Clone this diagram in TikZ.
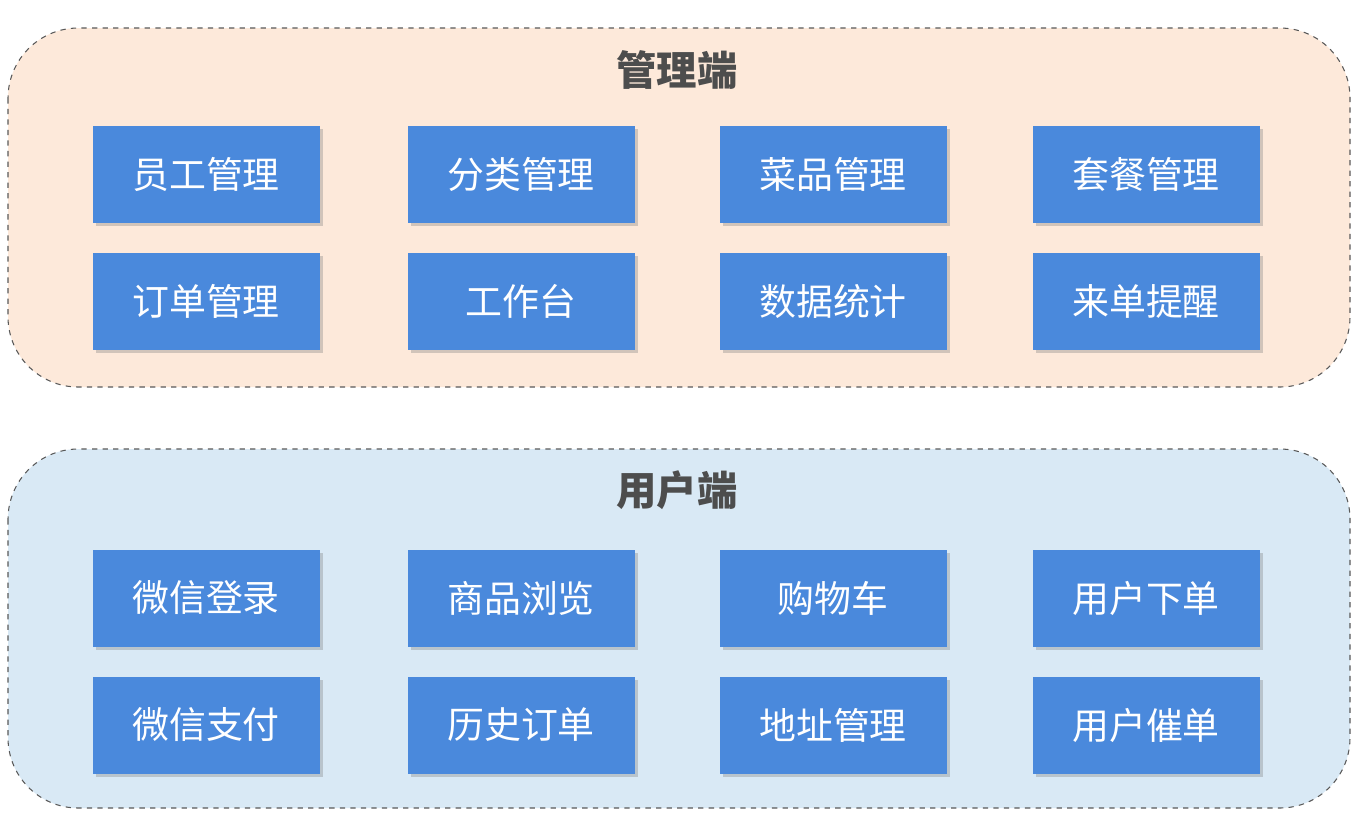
\documentclass[tikz,border=0pt]{standalone}
\usepackage{fontspec}
\newfontfamily\cjk{Noto Sans CJK SC}
\usetikzlibrary{shadows}
\definecolor{boxblue}{HTML}{4A89DC}
\definecolor{topfill}{HTML}{FDE9DA}
\definecolor{botfill}{HTML}{D9E9F5}
\definecolor{titlegray}{HTML}{4D4D4D}
\tikzset{
  panel/.style={draw=gray!70!black, dashed, rounded corners=40pt, line width=0.6pt},
  item/.style={fill=boxblue, text=white, minimum width=227*0.02cm, minimum height=97*0.02cm,
    font=\cjk\fontsize{21}{21}\selectfont, drop shadow={opacity=0.35, shadow xshift=2pt, shadow yshift=-2pt}},
  title/.style={text=titlegray, font=\cjk\bfseries\fontsize{23}{23}\selectfont}
}
\begin{document}
\begin{tikzpicture}[x=0.02cm, y=-0.02cm]
  \useasboundingbox (0,0) rectangle (1366,826);

  % Panels
  \draw [panel, fill=topfill] (8,28) rectangle (1350,387);
  \draw [panel, fill=botfill] (8,449) rectangle (1350,808);

  % Titles
  \node [title] (admin) at (677,70) {管理端};
  \node [title] (user) at (677,490) {用户端};

  % Admin modules
  \foreach \t [count=\i from 0] in {员工管理,分类管理,菜品管理,套餐管理,订单管理,工作台,数据统计,来单提醒} {
    \pgfmathsetmacro\cx{{206,521,833,1146}[mod(\i,4)]}
    \pgfmathsetmacro\cy{{174,301}[int(\i/4)]}
    \node [item] (a\i) at (\cx,\cy) {\t};
  }

  % User modules
  \foreach \t [count=\i from 0] in {微信登录,商品浏览,购物车,用户下单,微信支付,历史订单,地址管理,用户催单} {
    \pgfmathsetmacro\cx{{206,521,833,1146}[mod(\i,4)]}
    \pgfmathsetmacro\cy{{598,725}[int(\i/4)]}
    \node [item] (u\i) at (\cx,\cy) {\t};
  }
\end{tikzpicture}
\end{document}
